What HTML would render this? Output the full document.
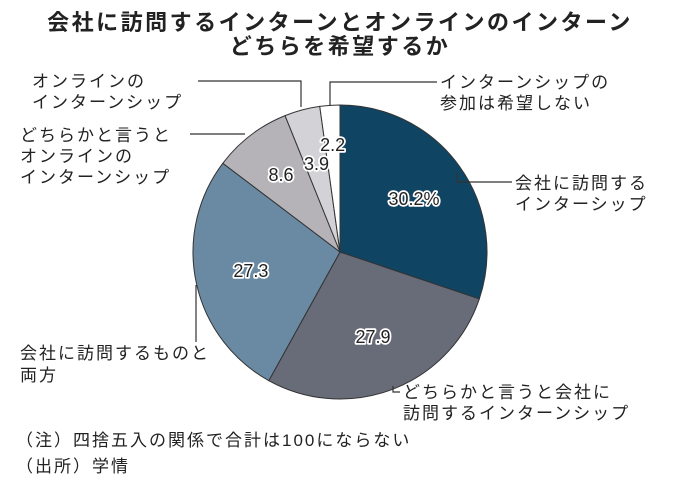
<!DOCTYPE html>
<html><head><meta charset="utf-8">
<style>
body{margin:0;background:#fff;}
svg text{font-family:"Liberation Sans","Noto Sans CJK JP",sans-serif;}
.lb{font-size:17px;fill:#222;letter-spacing:2px;}
.v{font-size:18px;fill:#222;stroke:#fff;stroke-width:3.5px;paint-order:stroke;stroke-linejoin:round;}
.ld{stroke:#333;stroke-width:1.2;fill:none;}
</style></head>
<body>
<svg width="680" height="491" viewBox="0 0 680 491">
<text x="340" y="30" text-anchor="middle" font-size="22" font-weight="bold" fill="#222" letter-spacing="2.5">会社に訪問するインターンとオンラインのインターン</text>
<text x="340" y="54" text-anchor="middle" font-size="22" font-weight="bold" fill="#222" letter-spacing="2.5">どちらを希望するか</text>
<g id="slices"></g>
<g id="vals"></g>
<g>
<polyline class="ld" points="330,106 330,82 437,82"/>
<polyline class="ld" points="301,107 301,81 198,81"/>
<polyline class="ld" points="245,134 190,134"/>
<polyline class="ld" points="457,172 457,182 512,182"/>
<polyline class="ld" points="196,285 196,342"/>
<polyline class="ld" points="393,386 393,392 400,392"/>
</g>
<g>
<text class="lb" x="440" y="88">インターンシップの</text>
<text class="lb" x="440" y="109">参加は希望しない</text>
<text class="lb" x="32" y="87">オンラインの</text>
<text class="lb" x="32" y="108">インターンシップ</text>
<text class="lb" x="20" y="141">どちらかと言うと</text>
<text class="lb" x="20" y="162">オンラインの</text>
<text class="lb" x="20" y="183">インターンシップ</text>
<text class="lb" x="515" y="189">会社に訪問する</text>
<text class="lb" x="515" y="210">インターシップ</text>
<text class="lb" x="20" y="359">会社に訪問するものと</text>
<text class="lb" x="20" y="381">両方</text>
<text class="lb" x="403" y="398">どちらかと言うと会社に</text>
<text class="lb" x="403" y="419">訪問するインターンシップ</text>
</g>
<text class="lb" x="16" y="446">（注）四捨五入の関係で合計は100にならない</text>
<text class="lb" x="16" y="472">（出所）学情</text>
</svg>
<script>
const categories=["会社に訪問するインターシップ","どちらかと言うと会社に訪問するインターンシップ","会社に訪問するものと両方","どちらかと言うとオンラインのインターンシップ","オンラインのインターンシップ","インターンシップの参加は希望しない"];
const values=[30.2,27.9,27.3,8.6,3.9,2.2];
const valueLabels=["30.2%","27.9","27.3","8.6","3.9","2.2"];
const colors=["#0f4463","#686b78","#6a8aa3","#b5b3b8","#d3d2d6","#ffffff"];
const labelR=[0.62,0.62,0.62,0.66,0.62,0.73];
const cx=340,cy=252,r=147,NS="http://www.w3.org/2000/svg";
const total=values.reduce((a,b)=>a+b,0);
const gS=document.getElementById('slices'),gV=document.getElementById('vals');
let a0=0;
values.forEach((v,i)=>{
  const a1=a0+v/total*2*Math.PI;
  const p=a=>[cx+r*Math.sin(a),cy-r*Math.cos(a)];
  const [x0,y0]=p(a0),[x1,y1]=p(a1);
  const path=document.createElementNS(NS,'path');
  path.setAttribute('d',`M${cx},${cy}L${x0},${y0}A${r},${r} 0 ${a1-a0>Math.PI?1:0} 1 ${x1},${y1}Z`);
  path.setAttribute('fill',colors[i]);path.setAttribute('stroke','#333');path.setAttribute('stroke-width','1');
  
  
  gS.appendChild(path);
  const am=(a0+a1)/2,lr=r*labelR[i];
  const t=document.createElementNS(NS,'text');
  t.setAttribute('x',cx+lr*Math.sin(am));t.setAttribute('y',cy-lr*Math.cos(am)+6);
  t.setAttribute('text-anchor','middle');t.setAttribute('class','v');
  t.textContent=valueLabels[i];
  
  
  gV.appendChild(t);
  a0=a1;
});
</script>
</body></html>
